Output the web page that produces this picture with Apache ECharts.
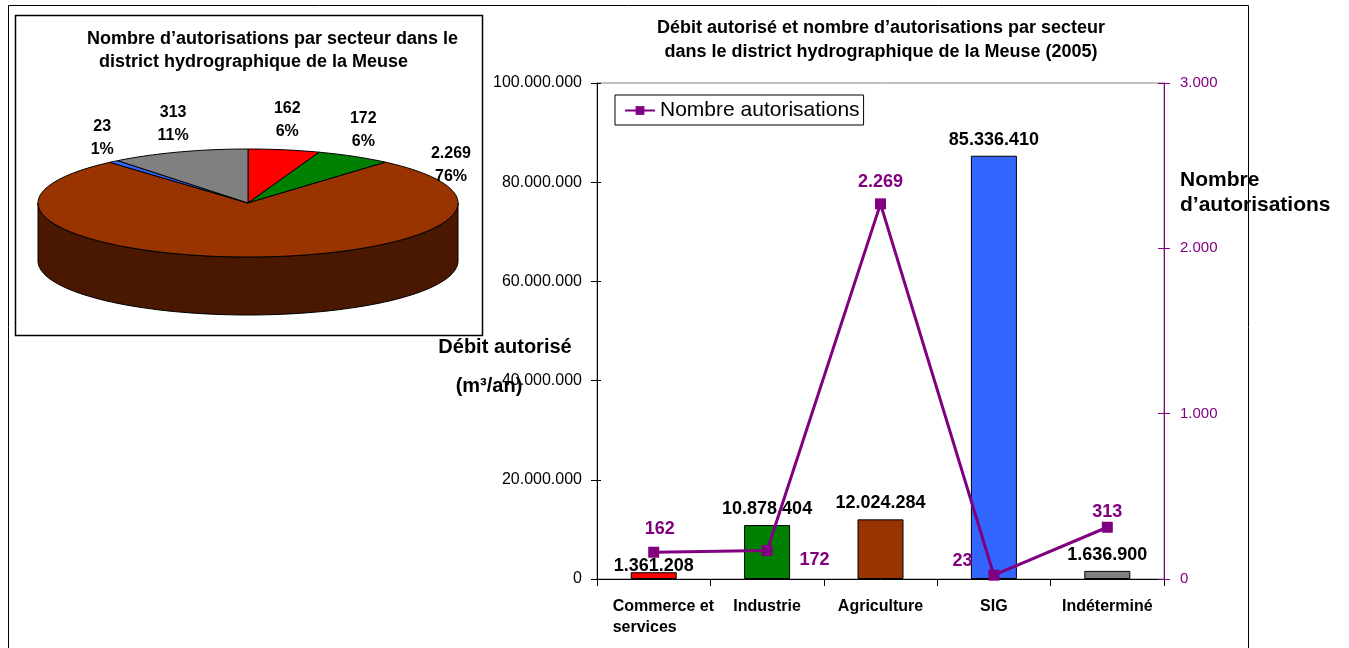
<!DOCTYPE html>
<html>
<head>
    <meta charset="utf-8"/>
    <title>Débit autorisé - Meuse 2005</title>
    <script src="https://cdn.jsdelivr.net/npm/echarts@6/dist/echarts.min.js"></script>
    <style>html, body { margin: 0; padding: 0; background: #fff; }</style>
</head>
<body>
<div id="chart" style="width: 1349px;height:648px;"></div>
<script type="text/javascript">
    var sectors = ['Commerce et\nservices', 'Industrie', 'Agriculture', 'SIG', 'Indéterminé'];
    var debit = [1361208, 10878404, 12024284, 85336410, 1636900];
    var nbAutorisations = [162, 172, 2269, 23, 313];
    var pieShare = [6, 6, 76, 1, 11]; // % shown on the pie
    var debitTicks = [0, 100000000, 20000000];
    var nbTicks = [0, 3000, 1000];

    var colors = ['#ff0000', '#008000', '#993300', '#3366ff', '#808080'];
    var sideColors = ['#800000', '#004000', '#4a1800', '#1a3380', '#404040'];
    var purple = '#800080';
    var FONT = "'Liberation Sans', Arial, sans-serif";

    // points separateurs de milliers
    function fmt(v) {
        return String(v).replace(/\B(?=(\d{3})+(?!\d))/g, '.');
    }

    // --- camembert 3D (custom series) ---
    var total = nbAutorisations.reduce((a, b) => a + b, 0);
    var cum = [];
    var acc = 0;
    nbAutorisations.forEach(v => { cum.push(acc); acc += v; });

    var PIE = { cx: 248, cy: 203, rx: 210, ry: 54, depth: 58 };

    function ellipsePt(t, dy) {
        return [PIE.cx + PIE.rx * Math.sin(t), PIE.cy - PIE.ry * Math.cos(t) + (dy || 0)];
    }

    function renderSlice(params, api) {
        var i = params.dataIndex;
        var v = api.value(0);
        var t0 = cum[i] / total * 2 * Math.PI;
        var t1 = (cum[i] + v) / total * 2 * Math.PI;
        var children = [];

        // face avant visible
        var a = Math.max(t0, Math.PI / 2), b = Math.min(t1, 3 * Math.PI / 2);
        if (b > a) {
            var pts = [], n = 80, k;
            for (k = 0; k <= n; k++) pts.push(ellipsePt(a + (b - a) * k / n, 0));
            for (k = n; k >= 0; k--) pts.push(ellipsePt(a + (b - a) * k / n, PIE.depth));
            children.push({
                type: 'polygon', shape: { points: pts },
                style: { fill: sideColors[i], stroke: '#000', lineWidth: 1 }
            });
        }

        // dessus
        var top = [[PIE.cx, PIE.cy]];
        var m = Math.max(2, Math.ceil((t1 - t0) * 40));
        for (var j = 0; j <= m; j++) top.push(ellipsePt(t0 + (t1 - t0) * j / m, 0));
        children.push({
            type: 'polygon', shape: { points: top },
            style: { fill: colors[i], stroke: '#000', lineWidth: 1 }
        });

        // etiquette
        var tm = (t0 + t1) / 2;
        if (Math.cos(tm) < 0) tm = t0 + 22 * Math.PI / 180;
        children.push({
            type: 'text',
            style: {
                text: fmt(v) + '\n' + pieShare[i] + '%',
                x: PIE.cx + 228 * Math.sin(tm),
                y: PIE.cy - 84 * Math.cos(tm),
                align: 'center', verticalAlign: 'middle',
                textAlign: 'center', textVerticalAlign: 'middle',
                font: 'bold 16px ' + FONT, lineHeight: 23, fill: '#000'
            }
        });
        return { type: 'group', children: children };
    }

    // position des etiquettes de la courbe
    var lineLabelLayout = [
        { position: 'top', distance: 9, offset: [6, 0] },
        { position: 'right', distance: 27, offset: [0, 9] },
        { position: 'top', distance: 7, offset: [0, 0] },
        { position: 'left', distance: 16, offset: [0, -14] },
        { position: 'top', distance: 1, offset: [0, 0] }
    ];
    // decalage vertical des etiquettes de barres
    var barLabelShift = [10, 0, 0, 0, 0];

    var option = {
        animation: false,
        textStyle: { fontFamily: FONT },
        title: [
            {
                text: 'Nombre d’autorisations par secteur dans le', left: 87, top: 30, padding: 0,
                textStyle: { fontSize: 18, fontWeight: 'bold', color: '#000', fontFamily: FONT }
            },
            {
                text: 'district hydrographique de la Meuse', left: 99, top: 53, padding: 0,
                textStyle: { fontSize: 18, fontWeight: 'bold', color: '#000', fontFamily: FONT }
            },
            {
                text: 'Débit autorisé et nombre d’autorisations par secteur\ndans le district hydrographique de la Meuse (2005)',
                left: 881, top: 16, padding: 0, textAlign: 'center',
                textStyle: { fontSize: 18, fontWeight: 'bold', color: '#000', lineHeight: 24, fontFamily: FONT }
            }
        ],
        legend: {
            data: ['Nombre autorisations'],
            left: 615, top: 95,
            padding: [5, 4, 4, 9],
            itemGap: 4,
            borderColor: '#000', borderWidth: 1,
            itemWidth: 30, itemHeight: 11,
            textStyle: { fontSize: 21, color: '#000', fontFamily: FONT }
        },
        grid: {
            left: 597, right: 185, top: 83, bottom: 69,
            show: true, borderColor: '#808080', borderWidth: 1
        },
        xAxis: {
            type: 'category',
            data: sectors,
            axisLine: { lineStyle: { color: '#000' } },
            axisTick: { show: true, length: 7, lineStyle: { color: '#000' } },
            axisLabel: {
                margin: 17, fontSize: 16, fontWeight: 'bold', color: '#000', lineHeight: 21,
                interval: 0,
                formatter: function (val) {
                    if (val.indexOf('\n') < 0) return val;
                    return val.split('\n').map(s => '{l|' + s + '}').join('\n');
                },
                rich: {
                    l: { width: 102, padding: [0, 0, 0, 20], align: 'left', fontSize: 16, fontWeight: 'bold', color: '#000', lineHeight: 21 }
                }
            }
        },
        yAxis: [
            {
                type: 'value', position: 'left',
                min: debitTicks[0], max: debitTicks[1], interval: debitTicks[2],
                axisLine: { show: true, lineStyle: { color: '#000' } },
                axisTick: { show: true, length: 6, lineStyle: { color: '#000' } },
                axisLabel: { margin: 15, fontSize: 16, color: '#000', formatter: fmt },
                splitLine: { show: false }
            },
            {
                type: 'value', position: 'right',
                min: nbTicks[0], max: nbTicks[1], interval: nbTicks[2],
                axisLine: { show: true, lineStyle: { color: purple } },
                axisTick: { show: true, length: 6, lineStyle: { color: purple } },
                axisLabel: { margin: 16, fontSize: 15, color: purple, formatter: fmt },
                splitLine: { show: false }
            },
            {
                type: 'value', position: 'left',
                min: debitTicks[0], max: debitTicks[1], interval: debitTicks[2],
                axisLine: { show: false },
                axisTick: { show: true, inside: true, length: 4, lineStyle: { color: '#000' } },
                axisLabel: { show: false },
                splitLine: { show: false }
            },
            {
                type: 'value', position: 'right',
                min: nbTicks[0], max: nbTicks[1], interval: nbTicks[2],
                axisLine: { show: false },
                axisTick: { show: true, inside: true, length: 6, lineStyle: { color: purple } },
                axisLabel: { show: false },
                splitLine: { show: false }
            }
        ],
        graphic: [
            {
                type: 'rect', z: 0, silent: true,
                shape: { x: 8.5, y: 5.5, width: 1240, height: 700 },
                style: { fill: 'none', stroke: '#000', lineWidth: 1 }
            },
            {
                type: 'rect', z: 0, silent: true,
                shape: { x: 15.5, y: 15.5, width: 467, height: 320 },
                style: { fill: '#fff', stroke: '#000', lineWidth: 1.5 }
            },
            {
                type: 'text', silent: true,
                style: {
                    text: 'Débit autorisé', x: 505, y: 347,
                    align: 'center', verticalAlign: 'middle', textAlign: 'center', textVerticalAlign: 'middle',
                    font: 'bold 20px ' + FONT, fill: '#000'
                }
            },
            {
                type: 'text', silent: true,
                style: {
                    text: '(m³/an)', x: 489, y: 386,
                    align: 'center', verticalAlign: 'middle', textAlign: 'center', textVerticalAlign: 'middle',
                    font: 'bold 20px ' + FONT, fill: '#000'
                }
            },
            {
                type: 'text', silent: true,
                style: {
                    text: 'Nombre\nd’autorisations', x: 1180, y: 193,
                    align: 'left', verticalAlign: 'middle', textAlign: 'left', textVerticalAlign: 'middle',
                    font: 'bold 21px ' + FONT, lineHeight: 25, fill: '#000'
                }
            }
        ],
        series: [
            {
                name: 'Débit autorisé',
                type: 'bar',
                yAxisIndex: 0,
                barWidth: 46,
                data: debit.map((v, i) => ({
                    value: v,
                    itemStyle: { color: colors[i] },
                    label: { offset: [0, barLabelShift[i]] }
                })),
                itemStyle: { borderColor: '#000', borderWidth: 1 },
                label: {
                    show: true, position: 'top', distance: 7,
                    formatter: p => fmt(p.value),
                    fontSize: 18, fontWeight: 'bold', color: '#000', fontFamily: FONT
                }
            },
            {
                name: 'Nombre autorisations',
                type: 'line',
                yAxisIndex: 1,
                data: nbAutorisations.map((v, i) => ({ value: v, label: lineLabelLayout[i] })),
                symbol: 'rect',
                symbolSize: 11,
                lineStyle: { color: purple, width: 3 },
                itemStyle: { color: purple },
                z: 5,
                label: {
                    show: true,
                    formatter: p => fmt(p.value),
                    fontSize: 18, fontWeight: 'bold', color: purple, fontFamily: FONT
                }
            },
            {
                name: 'camembert',
                type: 'custom',
                coordinateSystem: 'none',
                silent: true,
                z: 3,
                data: nbAutorisations.map(v => [v]),
                renderItem: renderSlice
            }
        ]
    };

    var chart = echarts.init(document.getElementById('chart'));
    chart.setOption(option);
</script>
</body>
</html>
